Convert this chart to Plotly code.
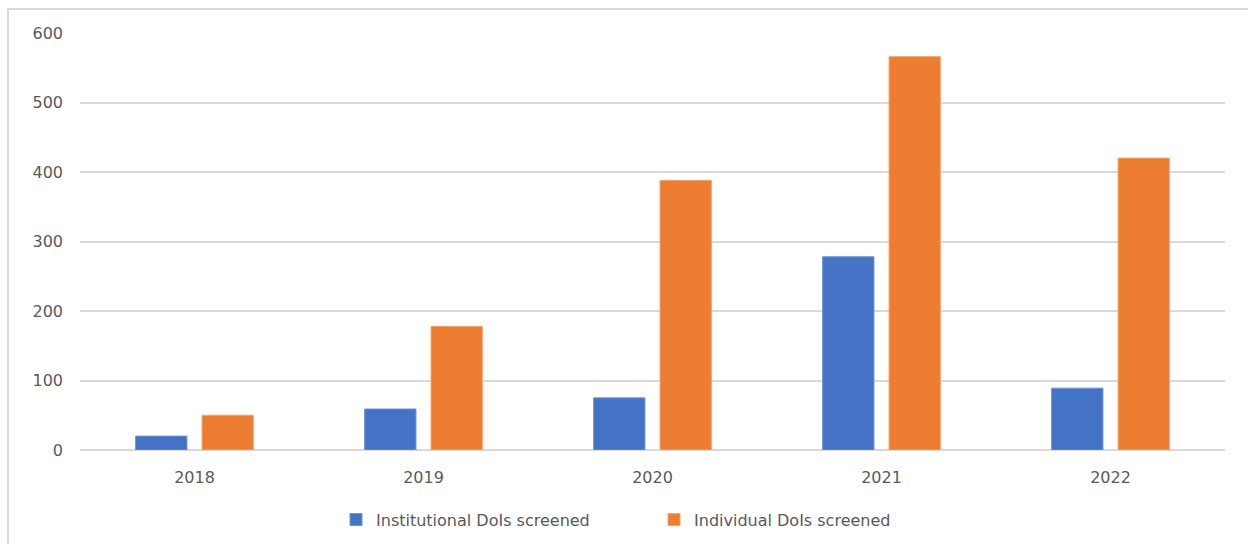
import plotly.graph_objects as go

# Screening counts per year
years = ["2018", "2019", "2020", "2021", "2022"]
institutional = [20, 59, 75, 278, 89]
individual = [50, 178, 388, 566, 420]

y_ticks = [0, 100, 200, 300, 400, 500, 600]

BLUE = "#4472C4"
ORANGE = "#ED7D31"
GRID = "#D9D9D9"
TEXT = "#595959"
FONT = "DejaVu Sans"

fig = go.Figure()
fig.add_trace(go.Bar(
    x=years, y=institutional, name="Institutional DoIs screened",
    marker=dict(color=BLUE, line=dict(color="#6F93D6", width=1)),
))
fig.add_trace(go.Bar(
    x=years, y=individual, name="Individual DoIs screened",
    marker=dict(color=ORANGE, line=dict(color="#F4A470", width=1)),
))

fig.update_layout(
    width=1248, height=544,
    margin=dict(l=80, r=23, t=33, b=94, autoexpand=False),
    paper_bgcolor="white", plot_bgcolor="white",
    barmode="group", bargap=0.42, bargroupgap=0.227,
    font=dict(family=FONT, size=16, color=TEXT),
    showlegend=True,
    legend=dict(
        orientation="h", x=0.2236, y=-0.167, xanchor="left", yanchor="middle",
        entrywidth=273, entrywidthmode="pixels",
        font=dict(family=FONT, size=16, color=TEXT),
        bgcolor="rgba(0,0,0,0)",
    ),
    xaxis=dict(
        showgrid=False, showline=False, ticks="",
        ticklabelstandoff=16,
        tickfont=dict(family=FONT, size=16, color=TEXT),
    ),
    yaxis=dict(
        range=[0, 600], tickvals=y_ticks,
        showgrid=True, gridcolor=GRID, gridwidth=1.5,
        zeroline=True, zerolinecolor=GRID, zerolinewidth=1.5,
        showline=False, ticks="",
        ticklabelstandoff=16,
        tickfont=dict(family=FONT, size=16, color=TEXT),
    ),
    shapes=[dict(
        type="rect", xref="paper", yref="paper",
        x0=-0.0629, x1=1.1, y0=-0.3, y1=1.0576,
        line=dict(color=GRID, width=2), fillcolor="rgba(0,0,0,0)",
        layer="below",
    )],
)

fig.write_html("out.html")
